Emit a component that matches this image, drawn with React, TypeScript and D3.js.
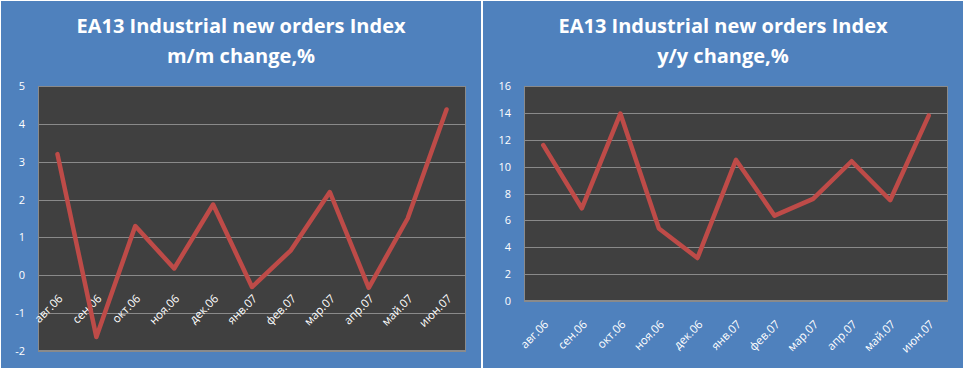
import React, { useEffect, useRef } from 'react';
import * as d3 from 'd3';

const months = ['авг.06', 'сен.06', 'окт.06', 'ноя.06', 'дек.06', 'янв.07', 'фев.07', 'мар.07', 'апр.07', 'май.07', 'июн.07'];
const momValues = [3.2, -1.63, 1.3, 0.18, 1.87, -0.31, 0.66, 2.2, -0.33, 1.5, 4.38];
const yoyValues = [11.6, 6.9, 13.95, 5.4, 3.2, 10.5, 6.35, 7.6, 10.4, 7.5, 13.8];
const momTicks = [-2, -1, 0, 1, 2, 3, 4, 5];
const yoyTicks = [0, 2, 4, 6, 8, 10, 12, 14, 16];

const FONT = "'Open Sans', 'DejaVu Sans', sans-serif";

interface PanelCfg {
  x0: number;
  width: number;
  title2: string;
  values: number[];
  ticks: number[];
  plot: { left: number; right: number; top: number; bottom: number };
}

const panels: PanelCfg[] = [
  { x0: 1, width: 480, title2: 'm/m change,%', values: momValues, ticks: momTicks,
    plot: { left: 38, right: 466, top: 86, bottom: 351 } },
  { x0: 483, width: 480, title2: 'y/y change,%', values: yoyValues, ticks: yoyTicks,
    plot: { left: 524, right: 948, top: 86, bottom: 301 } },
];

const App = () => {
  const ref = useRef<SVGSVGElement | null>(null);

  useEffect(() => {
    if (!ref.current) return;
    const svg = d3.select(ref.current);
    svg.selectAll('*').remove();

    panels.forEach(p => {
      const g = svg.append('g');
      // panel background
      g.append('rect')
        .attr('x', p.x0).attr('y', 1)
        .attr('width', p.width).attr('height', 367)
        .attr('fill', '#4F81BD');

      // title
      const cx = p.x0 + p.width / 2;
      g.append('text')
        .attr('x', cx).attr('y', 33)
        .attr('text-anchor', 'middle')
        .attr('fill', '#fff')
        .style('font-family', FONT)
        .style('font-weight', 'bold')
        .style('font-size', '20px')
        .text('EA13 Industrial new orders Index');
      g.append('text')
        .attr('x', cx).attr('y', 63)
        .attr('text-anchor', 'middle')
        .attr('fill', '#fff')
        .style('font-family', FONT)
        .style('font-weight', 'bold')
        .style('font-size', '20px')
        .text(p.title2);

      const x = d3.scaleBand<string>()
        .domain(months)
        .range([p.plot.left, p.plot.right]);
      const y = d3.scaleLinear()
        .domain([p.ticks[0], p.ticks[p.ticks.length - 1]])
        .range([p.plot.bottom, p.plot.top]);

      // plot area
      g.append('rect')
        .attr('x', p.plot.left).attr('y', p.plot.top)
        .attr('width', p.plot.right - p.plot.left)
        .attr('height', p.plot.bottom - p.plot.top)
        .attr('fill', '#404040');

      // gridlines
      g.selectAll('line.grid')
        .data(p.ticks)
        .enter()
        .append('line')
        .attr('x1', p.plot.left).attr('x2', p.plot.right)
        .attr('y1', d => Math.round(y(d)) + 0.5)
        .attr('y2', d => Math.round(y(d)) + 0.5)
        .attr('stroke', '#8a8a8a')
        .attr('stroke-width', 1);

      // border
      g.append('rect')
        .attr('x', p.plot.left + 0.5).attr('y', p.plot.top + 0.5)
        .attr('width', p.plot.right - p.plot.left - 1)
        .attr('height', p.plot.bottom - p.plot.top - 1)
        .attr('fill', 'none')
        .attr('stroke', '#8a8a8a');

      // y tick labels
      g.selectAll('text.ytick')
        .data(p.ticks)
        .enter()
        .append('text')
        .attr('x', p.plot.left - 13)
        .attr('y', d => y(d) + 4)
        .attr('text-anchor', 'end')
        .attr('fill', '#fff')
        .style('font-family', FONT)
        .style('font-size', '11px')
        .text(d => d);

      // x labels at zero line
      const axisY = y(0);
      g.selectAll('text.xtick')
        .data(months)
        .enter()
        .append('text')
        .attr('transform', d => `translate(${(x(d) as number) + x.bandwidth() / 2 + 6},${axisY + 24}) rotate(-45)`)
        .attr('text-anchor', 'end')
        .attr('fill', '#fff')
        .style('font-family', FONT)
        .style('font-size', '11.5px')
        .text(d => d);

      // line
      const line = d3.line<number>()
        .x((_, i) => (x(months[i]) as number) + x.bandwidth() / 2)
        .y(d => y(d));
      g.append('path')
        .datum(p.values)
        .attr('d', line)
        .attr('fill', 'none')
        .attr('stroke', '#BE4B48')
        .attr('stroke-width', 4.5)
        .attr('stroke-linejoin', 'round')
        .attr('stroke-linecap', 'round');
    });
  }, []);

  return (
    <svg ref={ref} width={966} height={371}
      style={{ position: 'absolute', left: 0, top: 0, background: '#fff' }} />
  );
};

export default App;
